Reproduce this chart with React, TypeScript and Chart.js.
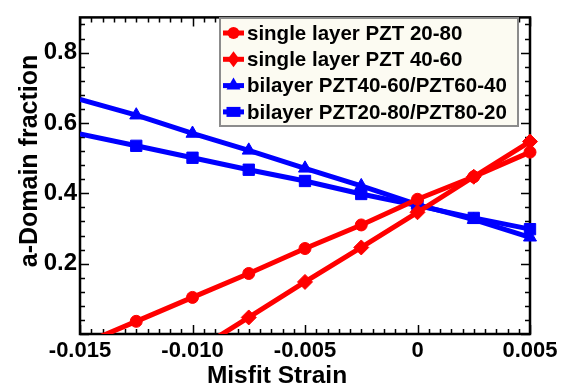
import React, { useEffect, useRef } from 'react';
import { Chart, registerables } from 'chart.js';

Chart.register(...registerables);

// ---- data ----
const strain = [-0.015, -0.0125, -0.01, -0.0075, -0.005, -0.0025, 0, 0.0025, 0.005];
const singlePZT2080 = [-0.032, 0.036, 0.104, 0.172, 0.243, 0.31, 0.383, 0.447, 0.517];
const singlePZT4060 = [-0.253, -0.153, -0.053, 0.047, 0.148, 0.246, 0.346, 0.447, 0.547];
const bilayer4060 = [0.667, 0.622, 0.57, 0.522, 0.471, 0.421, 0.368, 0.325, 0.275];
const bilayer2080 = [0.569, 0.535, 0.501, 0.467, 0.435, 0.398, 0.365, 0.33, 0.298];

const seriesLabels = [
  'single layer PZT 20-80',
  'single layer PZT 40-60',
  'bilayer PZT40-60/PZT60-40',
  'bilayer PZT20-80/PZT80-20',
];

const xTickValues = [-0.015, -0.01, -0.005, 0, 0.005];
const xTickLabels = ['-0.015', '-0.010', '-0.005', '0', '0.005'];
const yTickValues = [0.2, 0.4, 0.6, 0.8];
const yTickLabels = ['0.2', '0.4', '0.6', '0.8'];
const xTitle = 'Misfit Strain';
const yTitle = 'a-Domain fraction';

const X_MIN = -0.015;
const X_MAX = 0.005;
const Y_MIN = 0;
const Y_MAX = 0.9;

const FONT = '"Liberation Sans", Arial, Helvetica, sans-serif';
const RED = '#ff0000';
const BLUE = '#0000ff';

const seriesValues = [singlePZT2080, singlePZT4060, bilayer4060, bilayer2080];
const seriesColors = [RED, RED, BLUE, BLUE];
const seriesPointStyles = ['circle', 'rectRot', 'triangle', 'rect'];
const seriesPointRadius = [6, 7.5, 7.5, 8];
const legendShapes = ['circle', 'diamond', 'triangle', 'square'];

const framePlugin = {
  id: 'frameTicks',
  beforeDatasetsDraw(chart: any) {
    const { ctx, chartArea: a, scales } = chart;
    const xs = scales.x;
    const ys = scales.y;
    ctx.save();
    ctx.strokeStyle = '#000';
    ctx.lineWidth = 1.5;
    ctx.beginPath();
    // x ticks (major every 0.005, minor every 0.0005)
    for (let i = 0; i <= 40; i++) {
      const v = X_MIN + i * 0.0005;
      const px = Math.round(xs.getPixelForValue(v)) + 0.5;
      const len = i % 10 === 0 ? 9 : 5;
      ctx.moveTo(px, a.bottom);
      ctx.lineTo(px, a.bottom - len);
      ctx.moveTo(px, a.top);
      ctx.lineTo(px, a.top + len);
    }
    // y ticks (major every 0.2, minor every 0.04)
    for (let i = 0; i <= 22; i++) {
      const v = Y_MIN + i * 0.04;
      const py = Math.round(ys.getPixelForValue(v)) + 0.5;
      const len = i % 5 === 0 ? 9 : 5;
      ctx.moveTo(a.left, py);
      ctx.lineTo(a.left + len, py);
      ctx.moveTo(a.right, py);
      ctx.lineTo(a.right - len, py);
    }
    ctx.stroke();
    ctx.lineWidth = 2.5;
    ctx.strokeRect(a.left, a.top, a.right - a.left, a.bottom - a.top);
    ctx.restore();
  },
  afterDraw(chart: any) {
    const { ctx } = chart;
    ctx.save();
    ctx.fillStyle = '#000';
    // axis titles
    ctx.font = `bold 24.5px ${FONT}`;
    ctx.textAlign = 'center';
    ctx.textBaseline = 'alphabetic';
    ctx.fillText(xTitle, 277, 383);
    ctx.save();
    ctx.translate(37, 161);
    ctx.rotate(-Math.PI / 2);
    ctx.font = `bold 25px ${FONT}`;
    ctx.fillText(yTitle, 0, 0);
    ctx.restore();

    // legend
    const bx = 220, by = 18, bw = 298, bh = 108;
    ctx.fillStyle = '#fcfbf2';
    ctx.fillRect(bx, by, bw, bh);
    ctx.strokeStyle = '#8c8c8c';
    ctx.lineWidth = 2;
    ctx.strokeRect(bx, by, bw, bh);
    ctx.font = `bold 20.5px ${FONT}`;
    ctx.textAlign = 'left';
    ctx.textBaseline = 'middle';
    seriesLabels.forEach((label, i) => {
      const ry = 33 + i * 26.3;
      const col = seriesColors[i];
      ctx.strokeStyle = col;
      ctx.fillStyle = col;
      ctx.lineWidth = 5;
      ctx.beginPath();
      ctx.moveTo(223, ry);
      ctx.lineTo(244, ry);
      ctx.stroke();
      const cx = 233.5;
      ctx.beginPath();
      const shape = legendShapes[i];
      if (shape === 'circle') {
        ctx.arc(cx, ry, 6, 0, Math.PI * 2);
      } else if (shape === 'diamond') {
        ctx.moveTo(cx, ry - 8);
        ctx.lineTo(cx + 6, ry);
        ctx.lineTo(cx, ry + 8);
        ctx.lineTo(cx - 6, ry);
        ctx.closePath();
      } else if (shape === 'triangle') {
        ctx.moveTo(cx, ry - 8);
        ctx.lineTo(cx + 7, ry + 4);
        ctx.lineTo(cx - 7, ry + 4);
        ctx.closePath();
      } else {
        ctx.rect(cx - 7, ry - 5, 14, 10);
      }
      ctx.fill();
      ctx.fillStyle = '#000';
      ctx.fillText(label, 247, ry + 1);
    });
    ctx.restore();
  },
};

export default function App() {
  const canvasRef = useRef<HTMLCanvasElement | null>(null);

  useEffect(() => {
    const canvas = canvasRef.current;
    if (!canvas) return;
    const datasets = seriesLabels.map((label, si) => ({
      label,
      data: strain.map((x, i) => ({ x, y: seriesValues[si][i] })),
      borderColor: seriesColors[si],
      backgroundColor: seriesColors[si],
      pointBackgroundColor: seriesColors[si],
      pointBorderColor: seriesColors[si],
      borderWidth: 5,
      pointStyle: seriesPointStyles[si] as any,
      pointRadius: (c: any) => (c.dataIndex === 0 ? 0 : seriesPointRadius[si]),
      pointBorderWidth: 1,
      tension: 0,
      fill: false,
      clip: { left: 0, top: 0, right: 12, bottom: 0 } as any,
    }));

    const chart = new Chart(canvas, {
      type: 'line',
      data: { datasets },
      options: {
        animation: false,
        responsive: false,
        devicePixelRatio: 1,
        layout: { padding: { top: 5, right: 45, left: 0, bottom: 0 } },
        plugins: {
          legend: { display: false },
          tooltip: { enabled: false },
        },
        scales: {
          x: {
            type: 'linear',
            min: X_MIN,
            max: X_MAX,
            afterBuildTicks: (s: any) => {
              s.ticks = xTickValues.map((v) => ({ value: v }));
            },
            afterFit: (s: any) => {
              s.height = 57;
            },
            ticks: {
              callback: (_v: any, i: number) => xTickLabels[i],
              font: { family: FONT, size: 22, weight: 'bold' },
              color: '#000',
              padding: 4,
              maxRotation: 0,
              autoSkip: false,
            },
            grid: { display: false, drawTicks: false },
            border: { display: false },
          },
          y: {
            type: 'linear',
            min: Y_MIN,
            max: Y_MAX,
            afterBuildTicks: (s: any) => {
              s.ticks = yTickValues.map((v) => ({ value: v }));
            },
            afterFit: (s: any) => {
              s.width = 80;
            },
            ticks: {
              callback: (_v: any, i: number) => yTickLabels[i],
              font: { family: FONT, size: 24, weight: 'bold' },
              color: '#000',
              padding: 3,
              autoSkip: false,
            },
            grid: { display: false, drawTicks: false },
            border: { display: false },
          },
        },
      },
      plugins: [framePlugin],
    });
    return () => chart.destroy();
  }, []);

  return (
    <div style={{ position: 'absolute', left: 0, top: 0, width: 575, height: 391, background: '#fff' }}>
      <canvas ref={canvasRef} width={575} height={391} style={{ display: 'block' }} />
    </div>
  );
}
